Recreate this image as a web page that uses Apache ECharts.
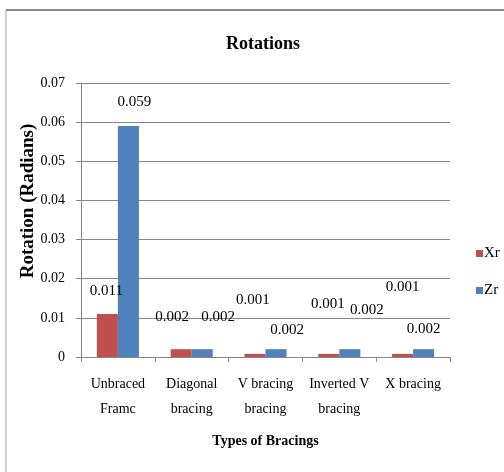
<!DOCTYPE html>
<html>
<head>
<meta charset="utf-8">
<script src="https://cdn.jsdelivr.net/npm/echarts@6/dist/echarts.min.js"></script>
<style>html,body{margin:0;padding:0;background:#fff}#c{width:504px;height:472px}</style>
</head>
<body>
<div id="c"></div>
<script>
const categories = ['Unbraced\nFramc', 'Diagonal\nbracing', 'V bracing\nbracing', 'Inverted V\nbracing', 'X bracing'];
const xrValues = [0.011, 0.002, 0.0008, 0.0008, 0.0008];
const zrValues = [0.059, 0.002, 0.002, 0.002, 0.002];
const yTicks = { min: 0, max: 0.07, interval: 0.01 };
// label nudges (layout only)
const xrLabelOffsets = [[-1, -10], [-9, -20], [-2, -41], [-1, -37], [0, -54]];
const zrLabelOffsets = [[6, -11], [16, -20], [11, -7], [17, -27], [0, -8]];

const FONT = 'Liberation Serif';
const chart = echarts.init(document.getElementById('c'), null, { renderer: 'canvas' });

function mk(values, offs) {
  return values.map((v, i) => ({ value: v, label: { offset: offs[i] } }));
}

chart.setOption({
  animation: false,
  textStyle: { fontFamily: FONT, color: '#000' },
  title: {
    text: 'Rotations', left: 258, top: 30, textAlign: 'center',
    textStyle: { fontFamily: FONT, fontWeight: 'bold', fontSize: 18, color: '#000' }
  },
  graphic: [
    { type: 'line', shape: { x1: 6, y1: 10, x2: 504, y2: 10 }, style: { stroke: '#8a8a8a', lineWidth: 2 } },
    { type: 'line', shape: { x1: 6, y1: 10, x2: 6, y2: 472 }, style: { stroke: '#a0a0a0', lineWidth: 1 } },
    { type: 'text', x: 28, y: 201, rotation: Math.PI / 2,
      style: { text: 'Rotation (Radians)', fontFamily: FONT, fontWeight: 'bold', fontSize: 19, fill: '#000',
        textAlign: 'center', textVerticalAlign: 'middle' } }
  ],
  legend: {
    orient: 'vertical', left: 471, top: 241, itemWidth: 7, itemHeight: 7, itemGap: 22,
    icon: 'rect',
    textStyle: { fontFamily: FONT, fontSize: 15, color: '#000', padding: [0, 0, 0, -4] },
    data: ['Xr', 'Zr']
  },
  grid: { left: 81, right: 54, top: 83, bottom: 115, containLabel: false },
  xAxis: {
    type: 'category', data: categories,
    name: 'Types of Bracings', nameLocation: 'middle', nameGap: 77,
    nameTextStyle: { fontFamily: FONT, fontWeight: 'bold', fontSize: 14, color: '#000' },
    axisLine: { lineStyle: { color: '#868686' } },
    axisTick: { show: true, length: 5, lineStyle: { color: '#868686' } },
    axisLabel: { fontFamily: FONT, fontSize: 14, color: '#000', lineHeight: 25, margin: 15, interval: 0 }
  },
  yAxis: {
    type: 'value', min: yTicks.min, max: yTicks.max, interval: yTicks.interval,
    axisLine: { show: true, lineStyle: { color: '#868686' } },
    axisTick: { show: true, length: 5, lineStyle: { color: '#868686' } },
    splitLine: { lineStyle: { color: '#868686' } },
    axisLabel: { fontFamily: FONT, fontSize: 14, color: '#000', margin: 16 }
  },
  series: [
    {
      name: 'Xr', type: 'bar', data: mk(xrValues, xrLabelOffsets),
      itemStyle: { color: '#C0504D' }, barGap: '0%', barCategoryGap: '43%',
      label: { show: true, position: 'top', fontFamily: FONT, fontSize: 15, color: '#000',
        formatter: p => p.value.toFixed(3) }
    },
    {
      name: 'Zr', type: 'bar', data: mk(zrValues, zrLabelOffsets),
      itemStyle: { color: '#4F81BD' }, barGap: '0%', barCategoryGap: '43%',
      label: { show: true, position: 'top', fontFamily: FONT, fontSize: 15, color: '#000',
        formatter: p => p.value.toFixed(3) }
    }
  ]
});
</script>
</body>
</html>
